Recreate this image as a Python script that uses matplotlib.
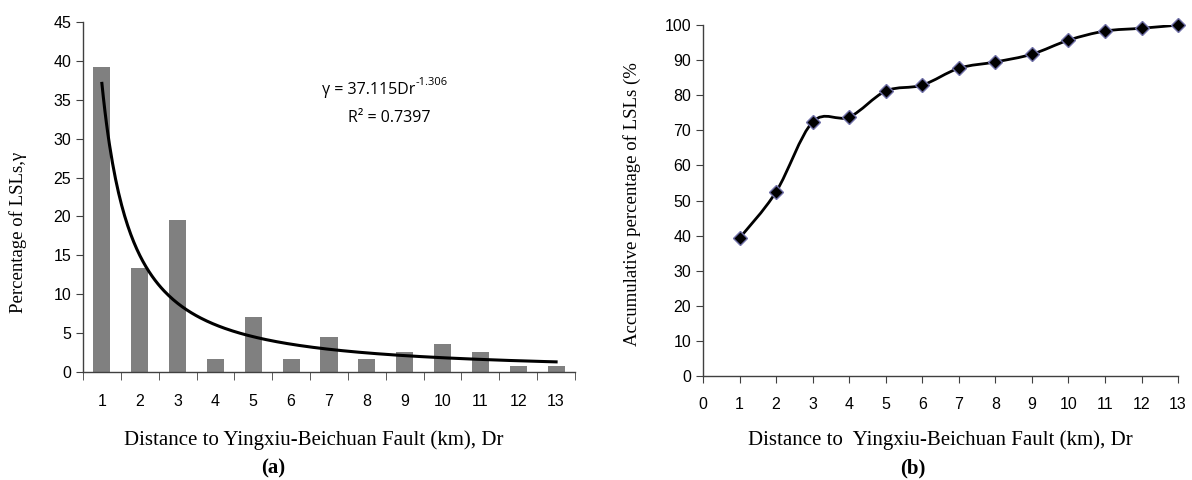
import numpy as np
import matplotlib
matplotlib.use("Agg")
import matplotlib.pyplot as plt
from matplotlib.path import Path
from matplotlib.patches import PathPatch

# data
distance = np.arange(1, 14)
pct_lsl = [39.2, 13.4, 19.6, 1.7, 7.1, 1.7, 4.5, 1.7, 2.6, 3.6, 2.6, 0.8, 0.8]
cum_pct = [39.3, 52.5, 72.4, 73.8, 81.2, 82.9, 87.7, 89.5, 91.7, 95.7, 98.3, 99.1, 100.0]

# power trendline shown on panel (a)
fit_a = 37.115
fit_b = -1.306
fit_r2 = 0.7397

plt.rcParams['font.family'] = ['Liberation Sans', 'DejaVu Sans']

fig = plt.figure(figsize=(11.92, 4.8), dpi=100)
ax1 = fig.add_axes([0.0696, 0.225, 0.4128, 0.729])
ax2 = fig.add_axes([0.5898, 0.2167, 0.3985, 0.731])

for ax in (ax1, ax2):
    for s in ('top', 'right'):
        ax.spines[s].set_visible(False)
    for s in ('left', 'bottom'):
        ax.spines[s].set_color('#404040')
        ax.spines[s].set_linewidth(1.0)
    ax.tick_params(labelsize=11.5, color='#404040', direction='out', length=5)

# ---------- (a) bar chart + trendline ----------
ax1.bar(distance, pct_lsl, width=0.45, color='#808080', zorder=2)
xs = np.linspace(1, 13, 300)
ax1.plot(xs, fit_a * xs ** fit_b, color='black', lw=2.2, zorder=3)
ax1.set_xlim(0.5, 13.5)
ax1.set_ylim(0, 45)
ax1.set_yticks(np.arange(0, 46, 5))
ax1.set_xticks(distance)
ax1.set_xticks(np.arange(0.5, 13.6, 1), minor=True)
ax1.tick_params(axis='x', which='major', length=0, pad=16)
ax1.tick_params(axis='x', which='minor', length=6, direction='out', color='#404040')

eq = ax1.text(6.81, 35.7, 'γ = %.3fDr' % fit_a, fontsize=11.5, family='Open Sans', va='baseline')
ax1.annotate('%.3f' % fit_b, xy=(1, 1), xycoords=eq, xytext=(0.5, 0), textcoords='offset points',
             ha='left', va='center', fontsize=8, family='Open Sans')
ax1.text(7.5, 32.1, 'R² = %.4f' % fit_r2, fontsize=11.5, family='Open Sans', va='baseline')

# ---------- (b) cumulative curve, smoothed like Excel ----------
px = np.asarray(distance, float)
py = np.asarray(cum_pct, float)
verts = [(px[0], py[0])]
codes = [Path.MOVETO]
n = len(px)
for i in range(n - 1):
    i0 = max(i - 1, 0)
    i3 = min(i + 2, n - 1)
    c1 = (px[i] + (px[i + 1] - px[i0]) / 6, py[i] + (py[i + 1] - py[i0]) / 6)
    c2 = (px[i + 1] - (px[i3] - px[i]) / 6, py[i + 1] - (py[i3] - py[i]) / 6)
    verts += [c1, c2, (px[i + 1], py[i + 1])]
    codes += [Path.CURVE4] * 3
ax2.add_patch(PathPatch(Path(verts, codes), facecolor='none', edgecolor='black', lw=2, zorder=3))
ax2.plot(px, py, linestyle='none', marker='D', markersize=7.5, markerfacecolor='black',
         markeredgecolor='#7070a8', markeredgewidth=1, zorder=4, clip_on=False)
ax2.set_xlim(0, 13)
ax2.set_ylim(0, 100)
ax2.set_xticks(np.arange(0, 14))
ax2.set_yticks(np.arange(0, 101, 10))
ax2.tick_params(axis='x', pad=10)

# axis titles and panel tags
serif = 'Liberation Serif'
fig.text(18 / 1192, 1 - 232 / 480, 'Percentage of LSLs,γ', rotation=90, ha='center', va='center',
         family=serif, fontsize=13.5)
fig.text(632 / 1192, 1 - 204 / 480, 'Accumulative percentage of LSLs (%', rotation=90,
         ha='center', va='center', family=serif, fontsize=13.5)
fig.text(314 / 1192, 1 - 440 / 480, 'Distance to Yingxiu-Beichuan Fault (km), Dr', ha='center',
         va='center', family=serif, fontsize=15)
fig.text(273 / 1192, 1 - 468 / 480, '(a)', ha='center', va='center', family=serif,
         fontsize=15, fontweight='bold')
fig.text(940 / 1192, 1 - 440 / 480, 'Distance to  Yingxiu-Beichuan Fault (km), Dr', ha='center',
         va='center', family=serif, fontsize=15)
fig.text(913 / 1192, 1 - 468 / 480, '(b)', ha='center', va='center', family=serif,
         fontsize=15, fontweight='bold')

fig.savefig('out.png', dpi=100)
